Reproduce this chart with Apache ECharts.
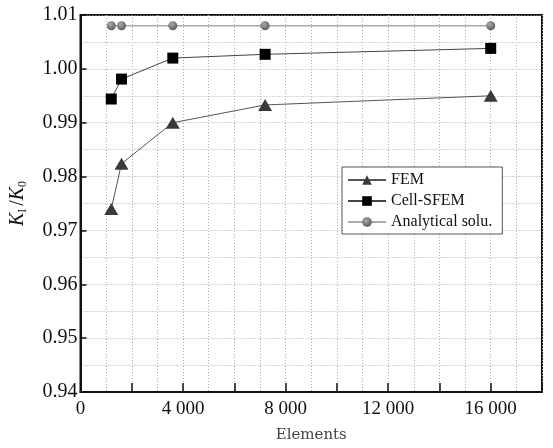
<!DOCTYPE html>
<html>
<head>
<meta charset="utf-8">
<script src="https://cdn.jsdelivr.net/npm/echarts@6/dist/echarts.min.js"></script>
<style>
html,body{margin:0;padding:0;background:#fff;}
#chart{width:553px;height:448px;}
</style>
</head>
<body>
<div id="chart"></div>
<script>
// Number of elements for each mesh
var elements = [1200, 1600, 3600, 7200, 16000];
// Normalised stress intensity factor K_I/K_0
var femValues = [0.9740, 0.9824, 0.9900, 0.9933, 0.9950];
var cellSfemValues = [0.9944, 0.9981, 1.0020, 1.0027, 1.0038];
var analyticalValues = [1.0080, 1.0080, 1.0080, 1.0080, 1.0080];
var seriesNames = ['FEM', 'Cell-SFEM', 'Analytical solu.'];

function pairs(xs, ys) {
  return xs.map(function (x, i) { return [x, ys[i]]; });
}

var serif = '"Liberation Serif", "Times New Roman", serif';
var chart = echarts.init(document.getElementById('chart'));

chart.setOption({
  animation: false,
  backgroundColor: '#fff',
  grid: {
    left: 79, top: 15, right: 11, bottom: 55,
    show: true, borderColor: '#111', borderWidth: 2, backgroundColor: 'transparent'
  },
  legend: {
    orient: 'vertical',
    left: 342, top: 167,
    width: 157,
    padding: [5, 10, 4, 5],
    itemGap: 5,
    itemWidth: 38, itemHeight: 12,
    backgroundColor: '#fff',
    borderColor: '#555', borderWidth: 1,
    textStyle: { fontFamily: serif, fontSize: 16, color: '#111' },
    data: seriesNames
  },
  xAxis: {
    type: 'value',
    min: 0, max: 18000, interval: 2000,
    name: 'Elements',
    nameLocation: 'middle',
    nameGap: 36,
    nameTextStyle: { fontFamily: '"DejaVu Serif", serif', fontSize: 15, color: '#444' },
    axisLine: { show: true, lineStyle: { color: '#111', width: 2 } },
    axisTick: { show: true, inside: true, length: 9, lineStyle: { color: '#111', width: 1.5 } },
    axisLabel: {
      margin: 8,
      fontFamily: serif, fontSize: 19, color: '#111',
      formatter: function (v) {
        if (v % 4000 !== 0 || v > 16000) return '';
        return v === 0 ? '0' : String(v).replace(/(\d)(?=(\d{3})$)/, '$1 ');
      }
    },
    splitLine: { show: true, lineStyle: { color: '#aaa', type: [1, 2], width: 1 } },
    minorTick: { show: false, splitNumber: 2 },
    minorSplitLine: { show: true, lineStyle: { color: '#aaa', type: [1, 2], width: 1 } }
  },
  yAxis: {
    type: 'value',
    min: 0.94, max: 1.01, interval: 0.01,
    name: '{k|K}{s|I}{k2|/}{k|K}{s|0}',
    nameLocation: 'middle',
    nameGap: 52,
    nameRotate: 90,
    nameTextStyle: {
      rich: {
        k: { fontFamily: serif, fontStyle: 'italic', fontSize: 20, color: '#111' },
        k2: { fontFamily: serif, fontSize: 20, color: '#111', padding: [0, 0, 0, 3] },
        s: { fontFamily: serif, fontSize: 12, color: '#111', verticalAlign: 'bottom', padding: [9, 0, 0, 0] }
      }
    },
    axisLine: { show: true, lineStyle: { color: '#111', width: 2 } },
    axisTick: { show: true, inside: true, length: 6, lineStyle: { color: '#111', width: 1.5 } },
    axisLabel: {
      margin: 3,
      fontFamily: serif, fontSize: 20, color: '#111',
      formatter: function (v) { return v.toFixed(2); }
    },
    splitLine: { show: true, lineStyle: { color: '#aaa', type: [1, 2], width: 1 } },
    minorTick: { show: false, splitNumber: 2 },
    minorSplitLine: { show: true, lineStyle: { color: '#aaa', type: [1, 2], width: 1 } }
  },
  series: [
    {
      name: seriesNames[0],
      type: 'line',
      data: pairs(elements, femValues),
      symbol: 'triangle', symbolSize: [14, 12],
      itemStyle: { color: '#3a3a3a' },
      lineStyle: { color: '#555', width: 1 }
    },
    {
      name: seriesNames[1],
      type: 'line',
      data: pairs(elements, cellSfemValues),
      symbol: 'rect', symbolSize: 11,
      itemStyle: { color: '#000' },
      lineStyle: { color: '#444', width: 1 }
    },
    {
      name: seriesNames[2],
      type: 'line',
      data: pairs(elements, analyticalValues),
      symbol: 'circle', symbolSize: 9,
      itemStyle: {
        color: new echarts.graphic.RadialGradient(0.4, 0.35, 0.7, [
          { offset: 0, color: '#aaa' },
          { offset: 1, color: '#555' }
        ])
      },
      lineStyle: { color: '#aaa', width: 1.5 }
    }
  ]
});
</script>
</body>
</html>
